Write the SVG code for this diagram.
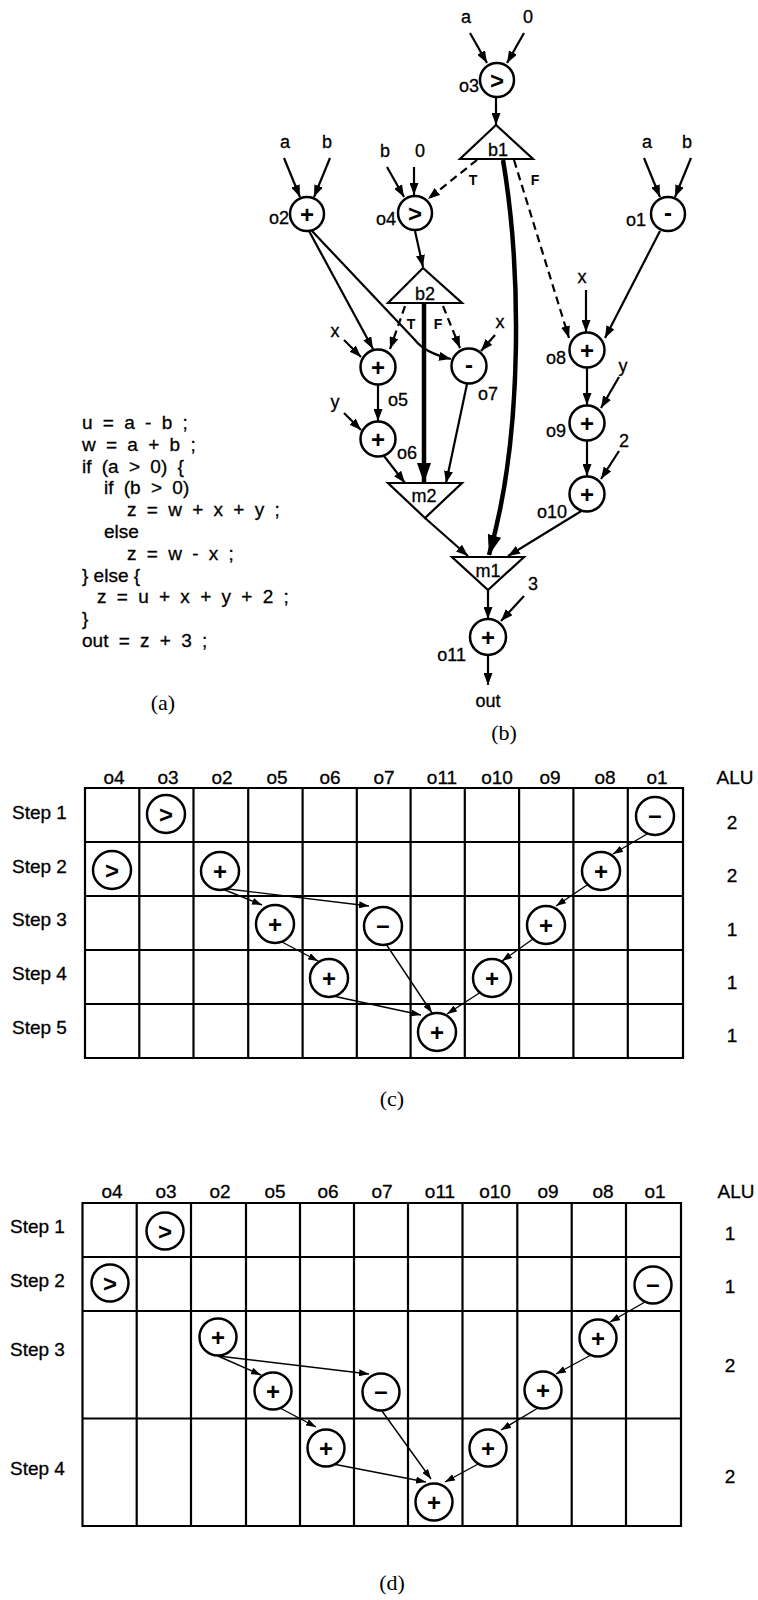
<svg xmlns="http://www.w3.org/2000/svg" width="758" height="1600" viewBox="0 0 758 1600">
<style>
.t{font-family:"Liberation Sans",Arial,sans-serif;font-size:18px;fill:#000;stroke:#000;stroke-width:0.3}
.m{text-anchor:middle}
.e{text-anchor:end}
.tf{font-family:"Liberation Sans",Arial,sans-serif;font-size:14px;font-weight:bold;text-anchor:middle}
.code{font-family:"Liberation Sans",Arial,sans-serif;font-size:19px;word-spacing:5px;stroke:#000;stroke-width:0.3}
.cap{font-family:"Liberation Serif","Times New Roman",serif;font-size:22px;text-anchor:middle}
.hd{font-family:"Liberation Sans",Arial,sans-serif;font-size:19px;text-anchor:middle;stroke:#000;stroke-width:0.3}
.st{font-family:"Liberation Sans",Arial,sans-serif;font-size:19px;stroke:#000;stroke-width:0.3}
.c{fill:#fff;stroke:#000;stroke-width:2.5}
.tri{fill:#fff;stroke:#000;stroke-width:2.2;stroke-linejoin:miter}
.sym{font-family:"Liberation Sans",Arial,sans-serif;font-size:24px;font-weight:bold;text-anchor:middle;dominant-baseline:central}
.e1{stroke:#000;stroke-width:2.2;fill:none;marker-end:url(#ah)}
.dsh{stroke-dasharray:8 5}
.thk{stroke:#000;stroke-width:4.5;fill:none;marker-end:url(#ahb)}
.g{stroke:#000;stroke-width:2.2;fill:none}
.ga{stroke:#000;stroke-width:1.4;fill:none;marker-end:url(#ahs)}
</style>
<defs>
<marker id="ah" viewBox="0 0 12 9" refX="12" refY="4.5" markerWidth="12" markerHeight="9" markerUnits="userSpaceOnUse" orient="auto"><path d="M0,0 L12,4.5 L0,9 z" fill="#000"/></marker>
<marker id="ahb" viewBox="0 0 20 14" refX="20" refY="7" markerWidth="20" markerHeight="14" markerUnits="userSpaceOnUse" orient="auto"><path d="M0,0 L20,7 L0,14 z" fill="#000"/></marker>
<marker id="ahs" viewBox="0 0 10 7" refX="10" refY="3.5" markerWidth="10" markerHeight="7" markerUnits="userSpaceOnUse" orient="auto"><path d="M0,0 L10,3.5 L0,7 z" fill="#000"/></marker>
</defs>
<rect width="758" height="1600" fill="#fff"/>

<!-- (a) code -->
<g id="code">
<text class="code" x="82" y="429">u = a - b ;</text>
<text class="code" x="82" y="450.8">w = a + b ;</text>
<text class="code" x="82" y="472.6">if (a &gt; 0) {</text>
<text class="code" x="104" y="494.4">if (b &gt; 0)</text>
<text class="code" x="127" y="516.2">z = w + x + y ;</text>
<text class="code" x="104" y="538">else</text>
<text class="code" x="127" y="559.8">z = w - x ;</text>
<text class="code" x="82" y="581.6" style="word-spacing:0">} else {</text>
<text class="code" x="97" y="603.4">z = u + x + y + 2 ;</text>
<text class="code" x="82" y="625.2">}</text>
<text class="code" x="82" y="647">out = z + 3 ;</text>
<text class="cap" x="163" y="710">(a)</text>
</g>

<!-- (b) connectors -->
<g id="connectors-b">
<line class="e1" x1="470" y1="33" x2="487" y2="63"/>
<line class="e1" x1="524" y1="33" x2="507" y2="63"/>
<line class="e1" x1="496" y1="97" x2="496" y2="125"/>
<line class="e1" x1="284" y1="158" x2="300" y2="197"/>
<line class="e1" x1="330" y1="158" x2="314" y2="197"/>
<line class="e1" x1="387" y1="167" x2="404" y2="197"/>
<line class="e1" x1="414" y1="167" x2="414" y2="195"/>
<line class="e1" x1="644" y1="158" x2="660" y2="197"/>
<line class="e1" x1="691" y1="158" x2="675" y2="197"/>
<line class="e1 dsh" x1="477" y1="160" x2="428" y2="199"/>
<line class="e1 dsh" x1="514" y1="160" x2="569" y2="338"/>
<path class="thk" d="M503,160 C520,260 525,430 489,555"/>
<line class="e1" x1="415" y1="231" x2="423" y2="267"/>
<line class="e1 dsh" x1="405" y1="306" x2="390" y2="349"/>
<line class="e1 dsh" x1="443" y1="306" x2="460" y2="348"/>
<line class="e1" x1="309" y1="231" x2="373" y2="349"/>
<path class="e1" d="M312,231 L415,340 Q425,353 451,359"/>
<line class="e1" x1="344" y1="340" x2="361" y2="357"/>
<line class="e1" x1="344" y1="413" x2="361" y2="430"/>
<line class="e1" x1="495" y1="335" x2="481" y2="351"/>
<line class="e1" x1="378" y1="385" x2="378" y2="421"/>
<line class="e1" x1="384" y1="456" x2="405" y2="483"/>
<line class="e1" x1="467" y1="384" x2="446" y2="483"/>
<line class="thk" x1="424" y1="303" x2="424" y2="483"/>
<line class="e1" x1="425" y1="518" x2="468" y2="556"/>
<line class="e1" x1="583" y1="510" x2="508" y2="556"/>
<line class="e1" x1="660" y1="231" x2="605" y2="338"/>
<line class="e1" x1="586" y1="290" x2="586" y2="332"/>
<line class="e1" x1="587" y1="368" x2="587" y2="405"/>
<line class="e1" x1="619" y1="377" x2="601" y2="408"/>
<line class="e1" x1="587" y1="441" x2="587" y2="476"/>
<line class="e1" x1="619" y1="451" x2="601" y2="479"/>
<line class="e1" x1="488" y1="590" x2="488" y2="619"/>
<line class="e1" x1="524" y1="596" x2="501" y2="621"/>
<line class="e1" x1="488" y1="655" x2="488" y2="685"/>
</g>

<!-- (b) inputs / edge labels -->
<g id="inputs-b">
<text class="t m" x="466" y="23">a</text>
<text class="t m" x="528" y="23">0</text>
<text class="t m" x="285" y="148">a</text>
<text class="t m" x="327" y="148">b</text>
<text class="t m" x="385" y="157">b</text>
<text class="t m" x="420" y="157">0</text>
<text class="t m" x="647" y="148">a</text>
<text class="t m" x="687" y="148">b</text>
<text class="tf" x="473" y="185">T</text>
<text class="tf" x="535" y="185">F</text>
<text class="tf" x="411" y="329">T</text>
<text class="tf" x="438" y="329">F</text>
<text class="t m" x="335" y="337">x</text>
<text class="t m" x="335" y="408">y</text>
<text class="t m" x="500" y="328">x</text>
<text class="t m" x="582" y="283">x</text>
<text class="t m" x="623" y="372">y</text>
<text class="t m" x="624" y="447">2</text>
<text class="t m" x="533" y="590">3</text>
<text class="t m" x="488" y="707">out</text>
<text class="cap" x="504" y="740">(b)</text>
</g>

<!-- (b) nodes -->
<g id="o3"><circle class="c" cx="497" cy="80" r="17"/><text class="sym" x="497" y="80">&gt;</text><text class="t e" x="479" y="92">o3</text></g>
<g id="b1"><polygon class="tri" points="496,125 460,159 533,159"/><text class="t m" x="498" y="156">b1</text></g>
<g id="o2"><circle class="c" cx="307" cy="214" r="17"/><text class="sym" x="307" y="214">+</text><text class="t e" x="289" y="224">o2</text></g>
<g id="o4"><circle class="c" cx="415" cy="213" r="17"/><text class="sym" x="415" y="213">&gt;</text><text class="t e" x="396" y="225">o4</text></g>
<g id="o1"><circle class="c" cx="668" cy="214" r="17"/><text class="sym" x="668" y="212">-</text><text class="t e" x="646" y="226">o1</text></g>
<g id="b2"><polygon class="tri" points="423,268 388,303 462,303"/><text class="t m" x="425" y="300">b2</text></g>
<g id="o5"><circle class="c" cx="378" cy="367" r="17.5"/><text class="sym" x="378" y="367">+</text><text class="t" x="388" y="406">o5</text></g>
<g id="o6"><circle class="c" cx="378" cy="439" r="17.5"/><text class="sym" x="378" y="439">+</text><text class="t" x="397" y="459">o6</text></g>
<g id="o7"><circle class="c" cx="469" cy="366" r="17.5"/><text class="sym" x="469" y="364">-</text><text class="t" x="478" y="400">o7</text></g>
<g id="o8"><circle class="c" cx="587" cy="350" r="17.5"/><text class="sym" x="587" y="350">+</text><text class="t e" x="566" y="364">o8</text></g>
<g id="o9"><circle class="c" cx="587" cy="423" r="17.5"/><text class="sym" x="587" y="423">+</text><text class="t e" x="566" y="437">o9</text></g>
<g id="o10"><circle class="c" cx="587" cy="494" r="17.5"/><text class="sym" x="587" y="494">+</text><text class="t e" x="567" y="518">o10</text></g>
<g id="m2"><polygon class="tri" points="388,483 462,483 425,518"/><text class="t m" x="424" y="502">m2</text></g>
<g id="m1"><polygon class="tri" points="452,557 524,557 488,590"/><text class="t m" x="488" y="577">m1</text></g>
<g id="o11"><circle class="c" cx="488" cy="637" r="18"/><text class="sym" x="488" y="637">+</text><text class="t e" x="466" y="661">o11</text></g>

<!-- (c) schedule -->
<g id="grid-c">
<path class="g" d="M85,788 H683 V1058 H85 Z M85,842 H683 M85,896 H683 M85,950 H683 M85,1004 H683 M139.3,788 V1058 M193.5,788 V1058 M248.2,788 V1058 M302.6,788 V1058 M356.8,788 V1058 M410.6,788 V1058 M464.8,788 V1058 M519.1,788 V1058 M573.4,788 V1058 M627.8,788 V1058"/>
<text class="hd" x="114" y="784">o4</text>
<text class="hd" x="168" y="784">o3</text>
<text class="hd" x="222" y="784">o2</text>
<text class="hd" x="277" y="784">o5</text>
<text class="hd" x="330" y="784">o6</text>
<text class="hd" x="384" y="784">o7</text>
<text class="hd" x="442" y="784">o11</text>
<text class="hd" x="497" y="784">o10</text>
<text class="hd" x="550" y="784">o9</text>
<text class="hd" x="605" y="784">o8</text>
<text class="hd" x="657" y="784">o1</text>
<text class="hd" x="735" y="784">ALU</text>
<text class="st" x="12" y="819">Step 1</text>
<text class="st" x="12" y="873">Step 2</text>
<text class="st" x="12" y="926">Step 3</text>
<text class="st" x="12" y="980">Step 4</text>
<text class="st" x="12" y="1034">Step 5</text>
<text class="hd" x="732" y="829">2</text>
<text class="hd" x="732" y="882">2</text>
<text class="hd" x="732" y="936">1</text>
<text class="hd" x="732" y="989">1</text>
<text class="hd" x="732" y="1042">1</text>
<text class="cap" x="392" y="1106">(c)</text>
</g>
<g id="edges-c">
<line class="ga" x1="220" y1="888" x2="262" y2="905"/>
<line class="ga" x1="220" y1="888" x2="369" y2="906"/>
<line class="ga" x1="282" y1="942" x2="318" y2="961"/>
<line class="ga" x1="333" y1="996" x2="421" y2="1015"/>
<line class="ga" x1="386" y1="944" x2="432" y2="1013"/>
<line class="ga" x1="484" y1="990" x2="447" y2="1014"/>
<line class="ga" x1="540" y1="934" x2="502" y2="961"/>
<line class="ga" x1="593" y1="881" x2="556" y2="906"/>
<line class="ga" x1="647" y1="834" x2="613" y2="854"/>
</g>
<g id="c-o3"><circle class="c" cx="166" cy="814" r="19"/><text class="sym" x="166" y="814">&gt;</text></g>
<g id="c-o4"><circle class="c" cx="112" cy="870" r="19"/><text class="sym" x="112" y="870">&gt;</text></g>
<g id="c-o2"><circle class="c" cx="220" cy="871" r="19"/><text class="sym" x="220" y="871">+</text></g>
<g id="c-o8"><circle class="c" cx="601" cy="871" r="19"/><text class="sym" x="601" y="871">+</text></g>
<g id="c-o1"><circle class="c" cx="655" cy="816" r="19"/><text class="sym" x="655" y="814">–</text></g>
<g id="c-o5"><circle class="c" cx="275" cy="924" r="19"/><text class="sym" x="275" y="924">+</text></g>
<g id="c-o7"><circle class="c" cx="383" cy="926" r="19"/><text class="sym" x="383" y="924">–</text></g>
<g id="c-o9"><circle class="c" cx="546" cy="925" r="19"/><text class="sym" x="546" y="925">+</text></g>
<g id="c-o6"><circle class="c" cx="329" cy="978" r="19"/><text class="sym" x="329" y="978">+</text></g>
<g id="c-o10"><circle class="c" cx="492" cy="978" r="19"/><text class="sym" x="492" y="978">+</text></g>
<g id="c-o11"><circle class="c" cx="437" cy="1032" r="19"/><text class="sym" x="437" y="1032">+</text></g>

<!-- (d) schedule -->
<g id="grid-d">
<path class="g" d="M82.5,1203 H681 V1526 H82.5 Z M82.5,1257 H681 M82.5,1311 H681 M82.5,1418.5 H681 M136.7,1203 V1526 M191,1203 V1526 M246,1203 V1526 M300,1203 V1526 M354,1203 V1526 M408,1203 V1526 M462.5,1203 V1526 M517.3,1203 V1526 M571.7,1203 V1526 M626,1203 V1526"/>
<text class="hd" x="112" y="1198">o4</text>
<text class="hd" x="166" y="1198">o3</text>
<text class="hd" x="220" y="1198">o2</text>
<text class="hd" x="275" y="1198">o5</text>
<text class="hd" x="328" y="1198">o6</text>
<text class="hd" x="382" y="1198">o7</text>
<text class="hd" x="440" y="1198">o11</text>
<text class="hd" x="495" y="1198">o10</text>
<text class="hd" x="548" y="1198">o9</text>
<text class="hd" x="603" y="1198">o8</text>
<text class="hd" x="655" y="1198">o1</text>
<text class="hd" x="736" y="1198">ALU</text>
<text class="st" x="10" y="1233">Step 1</text>
<text class="st" x="10" y="1287">Step 2</text>
<text class="st" x="10" y="1356">Step 3</text>
<text class="st" x="10" y="1475">Step 4</text>
<text class="hd" x="730" y="1240">1</text>
<text class="hd" x="730" y="1293">1</text>
<text class="hd" x="730" y="1372">2</text>
<text class="hd" x="730" y="1483">2</text>
<text class="cap" x="392" y="1590">(d)</text>
</g>
<g id="edges-d">
<line class="ga" x1="645" y1="1302" x2="610" y2="1322"/>
<line class="ga" x1="591" y1="1355" x2="556" y2="1374"/>
<line class="ga" x1="218" y1="1356" x2="261" y2="1375"/>
<line class="ga" x1="218" y1="1356" x2="369" y2="1374"/>
<line class="ga" x1="280" y1="1408" x2="316" y2="1427"/>
<line class="ga" x1="538" y1="1408" x2="501" y2="1430"/>
<line class="ga" x1="382" y1="1411" x2="431" y2="1479"/>
<line class="ga" x1="333" y1="1464" x2="426" y2="1482"/>
<line class="ga" x1="480" y1="1463" x2="445" y2="1482"/>
</g>
<g id="d-o3"><circle class="c" cx="165" cy="1231" r="18.5"/><text class="sym" x="165" y="1231">&gt;</text></g>
<g id="d-o4"><circle class="c" cx="110" cy="1283" r="18.5"/><text class="sym" x="110" y="1283">&gt;</text></g>
<g id="d-o1"><circle class="c" cx="653" cy="1285" r="18.5"/><text class="sym" x="653" y="1283">–</text></g>
<g id="d-o2"><circle class="c" cx="218" cy="1337" r="18.5"/><text class="sym" x="218" y="1337">+</text></g>
<g id="d-o8"><circle class="c" cx="598" cy="1338" r="18.5"/><text class="sym" x="598" y="1338">+</text></g>
<g id="d-o5"><circle class="c" cx="273" cy="1391" r="18.5"/><text class="sym" x="273" y="1391">+</text></g>
<g id="d-o7"><circle class="c" cx="381" cy="1392" r="18.5"/><text class="sym" x="381" y="1390">–</text></g>
<g id="d-o9"><circle class="c" cx="543" cy="1390" r="18.5"/><text class="sym" x="543" y="1390">+</text></g>
<g id="d-o6"><circle class="c" cx="326" cy="1448" r="18.5"/><text class="sym" x="326" y="1448">+</text></g>
<g id="d-o10"><circle class="c" cx="488" cy="1448" r="18.5"/><text class="sym" x="488" y="1448">+</text></g>
<g id="d-o11"><circle class="c" cx="434" cy="1502" r="18.5"/><text class="sym" x="434" y="1502">+</text></g>
</svg>
